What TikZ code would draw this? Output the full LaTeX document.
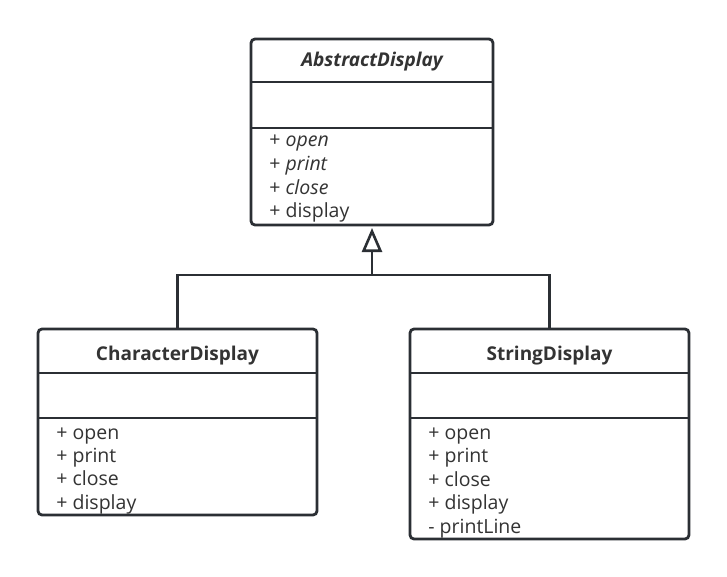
\documentclass[tikz,border=0pt]{standalone}
\usepackage{fontspec}
\setmainfont{Open Sans}
\usetikzlibrary{arrows.meta}
\definecolor{lineclr}{HTML}{2B2F34}
\definecolor{txtclr}{HTML}{333333}

\begin{document}
\begin{tikzpicture}[
    x = 1pt, y = -1pt,
    line width = 2.8pt,
    cls/.style = {draw=lineclr, rounded corners=4pt, inner sep=0pt,
        outer sep=0pt, minimum width=279pt, minimum height=186pt},
    title/.style = {anchor=base, inner sep=0pt, text=txtclr,
        font=\fontsize{19}{22}\selectfont\bfseries},
    meth/.style = {anchor=base west, inner sep=0pt, text=txtclr,
        font=\fontsize{19.5}{22}\selectfont},
    gen/.style = {draw=lineclr, shorten >=3pt,
        -{Triangle[open, length=24pt, width=20pt, line width=2.6pt]}}
  ]
  \useasboundingbox[fill=white] (0,0) rectangle (727,577);

  % classes
  \node[cls, minimum width=242pt] (abs) at (372,132) {};
  \node[cls] (chr) at (177.5,422) {};
  \node[cls, minimum height=210pt] (str) at (549.5,434) {};

  \node[title, font=\fontsize{19}{22}\selectfont\bfseries\itshape] (abs-t) at (372,67) {AbstractDisplay};
  \node[title] (chr-t) at (177.5,360) {CharacterDisplay};
  \node[title] (str-t) at (549.5,360) {StringDisplay};

  \draw[lineclr] (abs.west |- 0,82) -- (abs.east |- 0,82);
  \draw[lineclr] (abs.west |- 0,128) -- (abs.east |- 0,128);
  \foreach \c in {chr,str} {
    \draw[lineclr] (\c.west |- 0,373) -- (\c.east |- 0,373);
    \draw[lineclr] (\c.west |- 0,418) -- (\c.east |- 0,418);
  }

  % methods
  \foreach \m [count=\k from 0] in {{+ \textit{open}},{+ \textit{print}},{+ \textit{close}},{+ display}}
  \node[meth] (abs-m\k) at (268,147+23.6*\k) {\m};
  \foreach \m [count=\k from 0] in {+ open,+ print,+ close,+ display}
  \node[meth] (chr-m\k) at (55,439+23.4*\k) {\m};
  \foreach \m [count=\k from 0] in {+ open,+ print,+ close,+ display,- printLine}
  \node[meth] (str-m\k) at (427,439+23.5*\k) {\m};

  % generalization
  \coordinate (j) at (372,275);
  \draw[gen] (j) -- (abs.south);
  \draw[lineclr] (chr.north) |- (j) -| (str.north);
\end{tikzpicture}
\end{document}
